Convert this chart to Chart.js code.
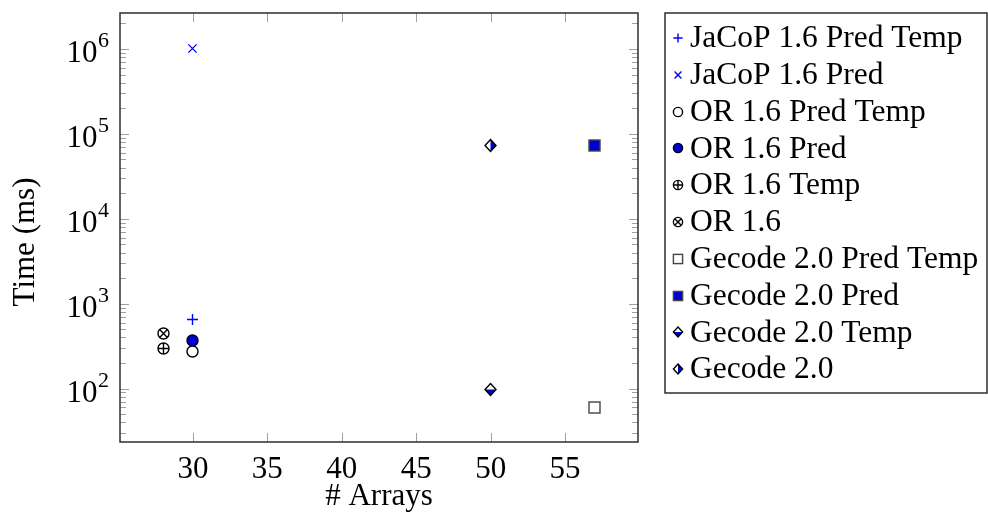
<!DOCTYPE html>
<html>
<head>
<meta charset="utf-8">
<script src="https://cdn.jsdelivr.net/npm/chart.js@4.4.0/dist/chart.umd.min.js"></script>
<style>
  html, body { margin: 0; padding: 0; background: #fff; }
  #wrap { width: 988px; height: 524px; }
</style>
</head>
<body>
<div id="wrap"><canvas id="chart" width="988" height="524"></canvas></div>
<script>
// series, in legend order
const seriesNames = [
  'JaCoP 1.6 Pred Temp',
  'JaCoP 1.6 Pred',
  'OR 1.6 Pred Temp',
  'OR 1.6 Pred',
  'OR 1.6 Temp',
  'OR 1.6',
  'Gecode 2.0 Pred Temp',
  'Gecode 2.0 Pred',
  'Gecode 2.0 Temp',
  'Gecode 2.0',
];
const seriesX = [[30], [30], [30], [30], [28], [28], [57], [57], [50], [50]];
const seriesY = [[650], [1000000], [270], [370], [300], [450], [60], [72000], [98], [72000]];

const xTicks = [30, 35, 40, 45, 50, 55];
const yTicks = [1e2, 1e3, 1e4, 1e5, 1e6];
const xLimits = [25.1, 59.9];
const yLimits = [23.5, 2.65e6];

const markKinds = ['plus', 'cross', 'circle', 'circleFill', 'oplus', 'otimes',
  'square', 'squareFill', 'diamondBottom', 'diamondRight'];

const FAMILY = "'Liberation Serif', 'Times New Roman', serif";
const FONT = `31px ${FAMILY}`;
const LEGEND_FONT = `31.5px ${FAMILY}`;
const SUP_FONT = `22px ${FAMILY}`;
const BLUE = '#0000ff';
const FILL = '#0000d4';

// little canvases used as point styles (plot + legend)
function makeMarker(kind, r) {
  const s = Math.ceil(r * 2 + 6);
  const c = document.createElement('canvas');
  c.width = s;
  c.height = s;
  const g = c.getContext('2d');
  const m = s / 2;
  g.lineWidth = 1.4;
  g.strokeStyle = '#000';

  const circle = (fill) => {
    g.beginPath();
    g.arc(m, m, r, 0, Math.PI * 2);
    g.fillStyle = fill;
    g.fill();
    g.stroke();
  };
  const diamond = () => {
    g.beginPath();
    g.moveTo(m, m - r * 1.1);
    g.lineTo(m + r, m);
    g.lineTo(m, m + r * 1.1);
    g.lineTo(m - r, m);
    g.closePath();
  };

  switch (kind) {
    case 'plus':
      g.strokeStyle = BLUE;
      g.beginPath();
      g.moveTo(m - r, m); g.lineTo(m + r, m);
      g.moveTo(m, m - r); g.lineTo(m, m + r);
      g.stroke();
      break;
    case 'cross': {
      const d = r * 0.75;
      g.strokeStyle = BLUE;
      g.beginPath();
      g.moveTo(m - d, m - d); g.lineTo(m + d, m + d);
      g.moveTo(m + d, m - d); g.lineTo(m - d, m + d);
      g.stroke();
      break;
    }
    case 'circle':
      circle('#fff');
      break;
    case 'circleFill':
      circle(FILL);
      break;
    case 'oplus':
      circle('#fff');
      g.beginPath();
      g.moveTo(m - r, m); g.lineTo(m + r, m);
      g.moveTo(m, m - r); g.lineTo(m, m + r);
      g.stroke();
      break;
    case 'otimes': {
      circle('#fff');
      const d = r * 0.7071;
      g.beginPath();
      g.moveTo(m - d, m - d); g.lineTo(m + d, m + d);
      g.moveTo(m + d, m - d); g.lineTo(m - d, m + d);
      g.stroke();
      break;
    }
    case 'square':
    case 'squareFill':
      g.fillStyle = kind === 'square' ? '#fff' : FILL;
      g.strokeStyle = '#444';
      g.fillRect(m - r, m - r, 2 * r, 2 * r);
      g.strokeRect(m - r, m - r, 2 * r, 2 * r);
      break;
    case 'diamondBottom':
    case 'diamondRight':
      diamond();
      g.fillStyle = '#fff';
      g.fill();
      g.save();
      g.clip();
      g.fillStyle = FILL;
      if (kind === 'diamondBottom') g.fillRect(0, m, s, s);
      else g.fillRect(m, 0, s, s);
      g.restore();
      diamond();
      g.stroke();
      break;
  }
  return c;
}

const plotMarks = markKinds.map(k => makeMarker(k, 5.5));
const legendMarks = markKinds.map(k => makeMarker(k, 4.6));

// inward ticks on all four sides + frame
const frameTicks = {
  id: 'frameTicks',
  beforeDatasetsDraw(chart) {
    const { ctx, chartArea: a, scales: { x, y } } = chart;
    ctx.save();
    ctx.strokeStyle = '#a0a0a0';
    ctx.lineWidth = 1;
    ctx.beginPath();
    xTicks.forEach(v => {
      const px = Math.round(x.getPixelForValue(v)) + 0.5;
      ctx.moveTo(px, a.bottom); ctx.lineTo(px, a.bottom - 9);
      ctx.moveTo(px, a.top); ctx.lineTo(px, a.top + 9);
    });
    const yTick = (v, len) => {
      if (v < yLimits[0] || v > yLimits[1]) return;
      const py = Math.round(y.getPixelForValue(v)) + 0.5;
      ctx.moveTo(a.left, py); ctx.lineTo(a.left + len, py);
      ctx.moveTo(a.right, py); ctx.lineTo(a.right - len, py);
    };
    for (let d = 10; d <= 1e6; d *= 10) {
      for (let k = 2; k <= 9; k++) yTick(k * d, 6);
    }
    yTicks.forEach(v => yTick(v, 9));
    ctx.stroke();

    ctx.strokeStyle = '#2e2e2e';
    ctx.lineWidth = 1.5;
    ctx.strokeRect(a.left, a.top, a.right - a.left, a.bottom - a.top);
    ctx.restore();

    // marker images land on fractional pixels; keep them crisp
    ctx.save();
    ctx.imageSmoothingEnabled = false;
  },
  afterDatasetsDraw(chart) {
    chart.ctx.restore();
  },
  afterDraw(chart) {
    const { ctx, chartArea: a, scales: { y } } = chart;
    ctx.save();
    ctx.fillStyle = '#000';
    ctx.textAlign = 'right';
    ctx.textBaseline = 'alphabetic';
    // 10^n labels with a real superscript
    yTicks.forEach(v => {
      const py = y.getPixelForValue(v);
      const exp = String(Math.round(Math.log10(v)));
      const xr = a.left - 11;
      ctx.font = SUP_FONT;
      const sw = ctx.measureText(exp).width;
      ctx.fillText(exp, xr, py - 2);
      ctx.font = FONT;
      ctx.fillText('10', xr - sw - 0.5, py + 13);
    });
    // y axis title
    ctx.translate(26, 242);
    ctx.rotate(-Math.PI / 2);
    ctx.textAlign = 'center';
    ctx.textBaseline = 'middle';
    ctx.font = FONT;
    ctx.fillText('Time (ms)', 0, 0);
    ctx.restore();
  },
};

const legendBox = {
  id: 'legendBox',
  afterDraw(chart) {
    const { ctx, chartArea } = chart;
    const left = chartArea.right + 27;
    const top = chartArea.top;
    const right = chart.width - 1;
    const bottom = 393;
    ctx.save();
    ctx.strokeStyle = '#2e2e2e';
    ctx.lineWidth = 1.5;
    ctx.strokeRect(left, top, right - left, bottom - top);
    ctx.font = LEGEND_FONT;
    ctx.fillStyle = '#000';
    ctx.textBaseline = 'middle';
    chart.data.datasets.forEach((ds, i) => {
      const yy = top + 25 + i * 36.8;
      const mk = legendMarks[i];
      ctx.drawImage(mk, left + 13 - mk.width / 2, Math.round(yy - mk.height / 2));
      ctx.fillText(ds.label, left + 25, yy + 1);
    });
    ctx.restore();
  },
};

const ctx = document.getElementById('chart').getContext('2d');

new Chart(ctx, {
  type: 'scatter',
  data: {
    datasets: seriesNames.map((name, i) => ({
      label: name,
      data: seriesX[i].map((x, j) => ({ x, y: seriesY[i][j] })),
      pointStyle: plotMarks[i],
      pointRadius: 6,
      pointHoverRadius: 6,
    })),
  },
  options: {
    responsive: false,
    animation: false,
    events: [],
    layout: {
      padding: { top: 13, right: 350, left: 0, bottom: 0 },
    },
    plugins: {
      legend: { display: false },
      tooltip: { enabled: false },
    },
    scales: {
      x: {
        type: 'linear',
        min: xLimits[0],
        max: xLimits[1],
        afterBuildTicks: (scale) => {
          scale.ticks = xTicks.map(v => ({ value: v }));
        },
        afterFit: (scale) => {
          scale.height = 82;
        },
        grid: { display: false, drawTicks: false },
        border: { display: false },
        ticks: {
          color: '#000',
          font: { family: FAMILY, size: 31 },
          padding: 9,
          maxRotation: 0,
        },
        title: {
          display: true,
          text: '# Arrays',
          color: '#000',
          font: { family: FAMILY, size: 31 },
          padding: { top: 0, bottom: 9 },
        },
      },
      y: {
        type: 'logarithmic',
        min: yLimits[0],
        max: yLimits[1],
        afterBuildTicks: (scale) => {
          scale.ticks = yTicks.map(v => ({ value: v }));
        },
        afterFit: (scale) => {
          scale.width = 120;
        },
        grid: { display: false, drawTicks: false },
        border: { display: false },
        ticks: { display: false },
      },
    },
  },
  plugins: [frameTicks, legendBox],
});
</script>
</body>
</html>
